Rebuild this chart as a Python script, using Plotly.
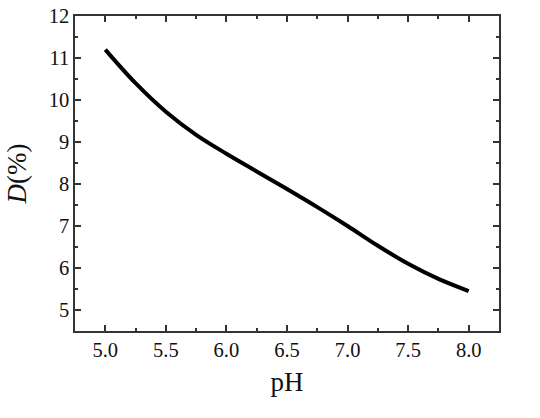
import plotly.graph_objects as go

ph = [5.0, 5.25, 5.5, 5.75, 6.0, 6.25, 6.5, 6.75, 7.0, 7.25, 7.5, 7.75, 8.0]
d_pct = [11.2, 10.4, 9.72, 9.17, 8.72, 8.30, 7.88, 7.45, 7.0, 6.53, 6.10, 5.74, 5.45]

x_ticks = [5.0, 5.5, 6.0, 6.5, 7.0, 7.5, 8.0]
x_tick_labels = ["5.0", "5.5", "6.0", "6.5", "7.0", "7.5", "8.0"]
y_ticks = [5, 6, 7, 8, 9, 10, 11, 12]

font_family = "Liberation Serif"

fig = go.Figure()
fig.add_trace(go.Scatter(x=ph, y=d_pct, mode="lines",
                         line=dict(color="black", width=4, shape="spline", smoothing=1.0),
                         showlegend=False))

axis_common = dict(
    showline=True, linecolor="#333333", linewidth=1.5, mirror="allticks",
    ticks="inside", ticklen=6, tickwidth=1.5, tickcolor="#333333",
    showgrid=False, zeroline=False, automargin=False,
    tickfont=dict(family=font_family, size=20.5, color="#111111"),
)

fig.update_xaxes(range=[4.75, 8.25], tickvals=x_ticks, ticktext=x_tick_labels,
                 minor=dict(ticks="inside", ticklen=3.5, tickwidth=1.5, tickcolor="#333333", dtick=0.25, tick0=4.75),
                 title=dict(text="pH", font=dict(family=font_family, size=27, color="#111111"), standoff=12),
                 **axis_common)
fig.update_yaxes(range=[4.5, 12], tickvals=y_ticks,
                 minor=dict(ticks="inside", ticklen=3.5, tickwidth=1.5, tickcolor="#333333", dtick=0.5, tick0=4.5),
                 title=dict(text="<i>D</i>(%)", font=dict(family=font_family, size=27, color="#111111"), standoff=14),
                 **axis_common)

fig.update_layout(width=540, height=418, margin=dict(l=75, r=41, t=16, b=87, autoexpand=False),
                  plot_bgcolor="white", paper_bgcolor="white",
                  font=dict(family=font_family))

fig.write_html("out.html")
